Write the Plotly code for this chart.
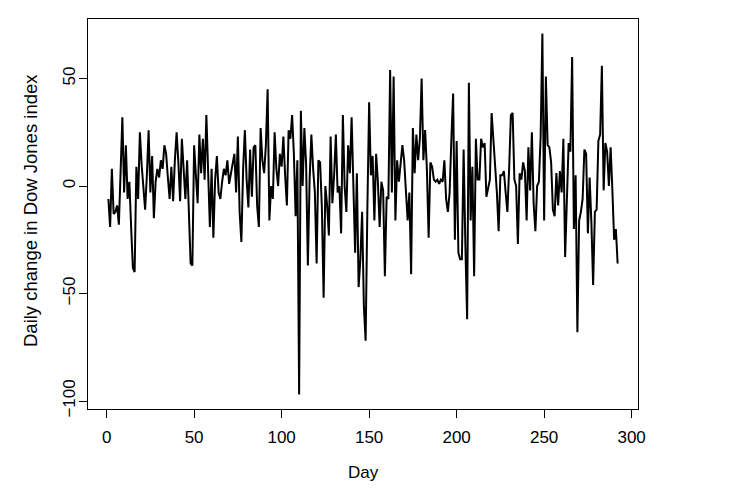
import plotly.graph_objects as go

# Daily change in Dow Jones index
change_days_1_50 = [
    -6, -19, 8, -13, -12, -9, -18, 8, 32, -3,
    19, -6, 2, -19, -38, -40, 9, -6, 25, 10,
    -3, -11, 5, 26, -3, 14, -15, 2, 8, 4,
    12, 8, 19, 15, 4, -6, 9, -7, 12, 25,
    11, -7, 22, 5, -6, 12, -16, -36, -37, 19,
]
change_days_51_100 = [
    5, -8, 24, 6, 22, 3, 33, 6, -19, 8,
    -24, 3, 14, -3, -6, 2, 8, 5, 12, 1,
    6, 12, 15, -3, 23, -12, -26, 8, 26, 3,
    -10, 17, -5, 18, 19, -9, -19, 27, 12, 6,
    19, 45, -16, 0, -6, 25, 8, 0, 15, 9,
]
change_days_101_150 = [
    23, 5, -9, 26, 22, 33, 15, -14, 12, -97,
    35, 0, 27, 10, -37, 3, 24, 8, -3, -36,
    12, 11, -10, -52, 0, -9, -23, 23, -8, 5,
    24, -3, 0, -22, 33, 0, -12, 19, 6, 32,
    -3, -31, 6, -47, -34, -12, -56, -72, -10, 39,
]
change_days_151_200 = [
    5, 14, -16, 15, 2, -19, 2, -2, -42, -5,
    -6, 54, -3, 51, -16, 12, 2, 10, 19, 12,
    -2, -16, -3, -41, 27, 6, 24, 12, 22, 50,
    12, 26, 8, -24, 11, 9, 3, 2, 3, 1,
    3, 2, 12, -6, -12, -3, 22, 43, -25, 21,
]
change_days_201_250 = [
    -31, -34, -34, 17, -28, -62, 48, -16, 9, -42,
    22, 3, 3, 22, 18, 20, -5, 0, 3, 34,
    22, 5, -3, -21, 5, 5, 7, -3, -12, 8,
    33, 34, 3, 0, -27, 6, 3, 11, 7, -16,
    18, -2, 25, -8, -21, 0, 2, 23, 71, -16,
]
change_days_251_292 = [
    51, 19, 18, 11, -11, -14, 6, -9, 7, -3,
    22, -33, 0, 20, 16, 60, -20, 5, -68, -16,
    -12, -6, 17, 15, -22, 4, -17, -46, -12, -11,
    21, 24, 56, -2, 20, 16, 0, 18, -2, -25,
    -20, -36,
]

change = (change_days_1_50 + change_days_51_100 + change_days_101_150
          + change_days_151_200 + change_days_201_250 + change_days_251_292)
days = list(range(1, len(change) + 1))

x_ticks = [0, 50, 100, 150, 200, 250, 300]
y_ticks = [-100, -50, 0, 50]
x_title = "Day"
y_title = "Daily change in Dow Jones index"

# R-style 4% axis extension
xr = days[-1] - days[0]
yr = max(change) - min(change)
x_range = [days[0] - 0.04 * xr, days[-1] + 0.04 * xr]
y_range = [min(change) - 0.04 * yr, max(change) + 0.04 * yr]

FONT = "Liberation Sans, Arial, Helvetica, sans-serif"

fig = go.Figure()
fig.add_trace(go.Scatter(
    x=days, y=change, mode="lines",
    line=dict(color="black", width=2),
    showlegend=False, hoverinfo="skip",
))

axis_common = dict(
    showgrid=False, zeroline=False, automargin=False,
    showline=True, mirror=True, linecolor="black", linewidth=1.2,
    ticks="outside", ticklen=8, tickwidth=1.2, tickcolor="black",
    tickfont=dict(family=FONT, size=17, color="black"),
)

# the page body has an 8px default margin, so the margins below are
# reduced by 8px on the left/top to land the plot box where it belongs
fig.update_layout(
    template="none",
    width=738, height=491,
    paper_bgcolor="white", plot_bgcolor="white",
    margin=dict(l=80, r=108, t=11, b=90, pad=0),
    font=dict(family=FONT, color="black", size=17),
    xaxis=dict(
        range=x_range, tickvals=x_ticks,
        ticktext=[str(v) for v in x_ticks],
        ticklabelstandoff=4,
        **axis_common,
    ),
    yaxis=dict(
        range=y_range, tickvals=y_ticks,
        ticktext=[("\u2212" + str(-v)) if v < 0 else str(v) for v in y_ticks],
        tickangle=-90, ticklabelstandoff=-3,
        **axis_common,
    ),
    annotations=[
        dict(text=x_title, xref="paper", yref="paper", x=0.5, y=0,
             yshift=-63, xanchor="center", yanchor="middle",
             showarrow=False, font=dict(family=FONT, size=17, color="black")),
        dict(text=y_title, xref="paper", yref="paper", x=0, y=0.5,
             xshift=-58, yshift=3, xanchor="center", yanchor="middle",
             textangle=-90, showarrow=False,
             font=dict(family=FONT, size=18.5, color="black")),
    ],
)

fig.write_html("out.html")
